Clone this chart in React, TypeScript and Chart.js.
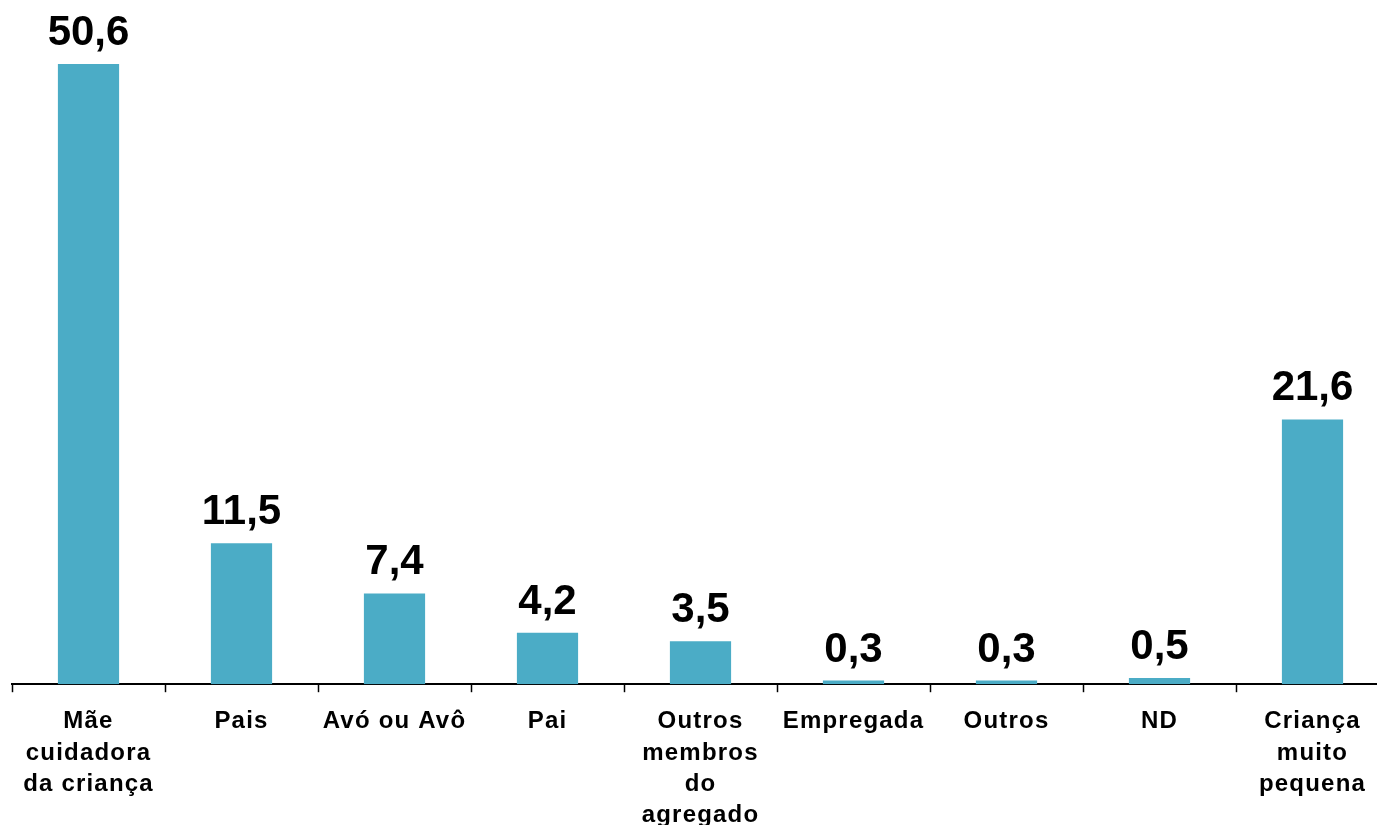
import React, { useEffect, useRef } from "react";
import { Chart, registerables } from "chart.js";

Chart.register(...registerables);

const categories: string[][] = [
  ["Mãe", "cuidadora", "da criança"],
  ["Pais"],
  ["Avó ou Avô"],
  ["Pai"],
  ["Outros", "membros", "do", "agregado"],
  ["Empregada"],
  ["Outros"],
  ["ND"],
  ["Criança", "muito", "pequena"],
];
const values: number[] = [50.6, 11.5, 7.4, 4.2, 3.5, 0.3, 0.3, 0.5, 21.6];

const FONT = "'Liberation Sans', Arial, sans-serif";

const spacing = {
  id: "spacing",
  beforeDraw(chart: any) {
    (chart.ctx as any).letterSpacing = "1.2px";
  },
};

const valueLabels = {
  id: "valueLabels",
  afterDatasetsDraw(chart: any) {
    const ctx = chart.ctx;
    const meta = chart.getDatasetMeta(0);
    ctx.save();
    (ctx as any).letterSpacing = "0px";
    ctx.fillStyle = "#000";
    ctx.font = `bold 42px ${FONT}`;
    ctx.textAlign = "center";
    ctx.textBaseline = "alphabetic";
    meta.data.forEach((el: any, i: number) => {
      const v = chart.data.datasets[0].data[i] as number;
      ctx.fillText(v.toFixed(1).replace(".", ","), el.x, el.y - 19);
    });
    ctx.restore();
  },
};

export default function App() {
  const ref = useRef<HTMLCanvasElement>(null);
  useEffect(() => {
    if (!ref.current) return;
    const chart = new Chart(ref.current, {
      type: "bar",
      data: {
        labels: categories,
        datasets: [
          {
            data: values,
            backgroundColor: "#4BACC6",
            borderWidth: 0,
            barPercentage: 0.4,
            categoryPercentage: 1,
          },
        ],
      },
      options: {
        responsive: false,
        animation: false,
        layout: { padding: { left: 12, right: 6, top: 10, bottom: 0 } },
        plugins: { legend: { display: false }, tooltip: { enabled: false } },
        scales: {
          x: {
            grid: {
              offset: true,
              drawOnChartArea: false,
              drawTicks: true,
              tickLength: 8,
              tickWidth: 1.5,
              tickColor: "#000",
            },
            border: { display: true, color: "#000", width: 2 },
            ticks: {
              color: "#000",
              font: { family: FONT, size: 24, weight: "bold", lineHeight: 1.3 },
              maxRotation: 0,
              autoSkip: false,
              padding: 14,
            },
          },
          y: {
            display: false,
            min: 0,
            max: 55,
          },
        },
      },
      plugins: [spacing, valueLabels],
    });
    return () => chart.destroy();
  }, []);
  return (
    <div style={{ position: "fixed", left: 0, top: 0, width: 1377, height: 825, overflow: "hidden", background: "#fff" }}>
      <canvas ref={ref} width={1395} height={845} style={{ display: "block" }} />
    </div>
  );
}
